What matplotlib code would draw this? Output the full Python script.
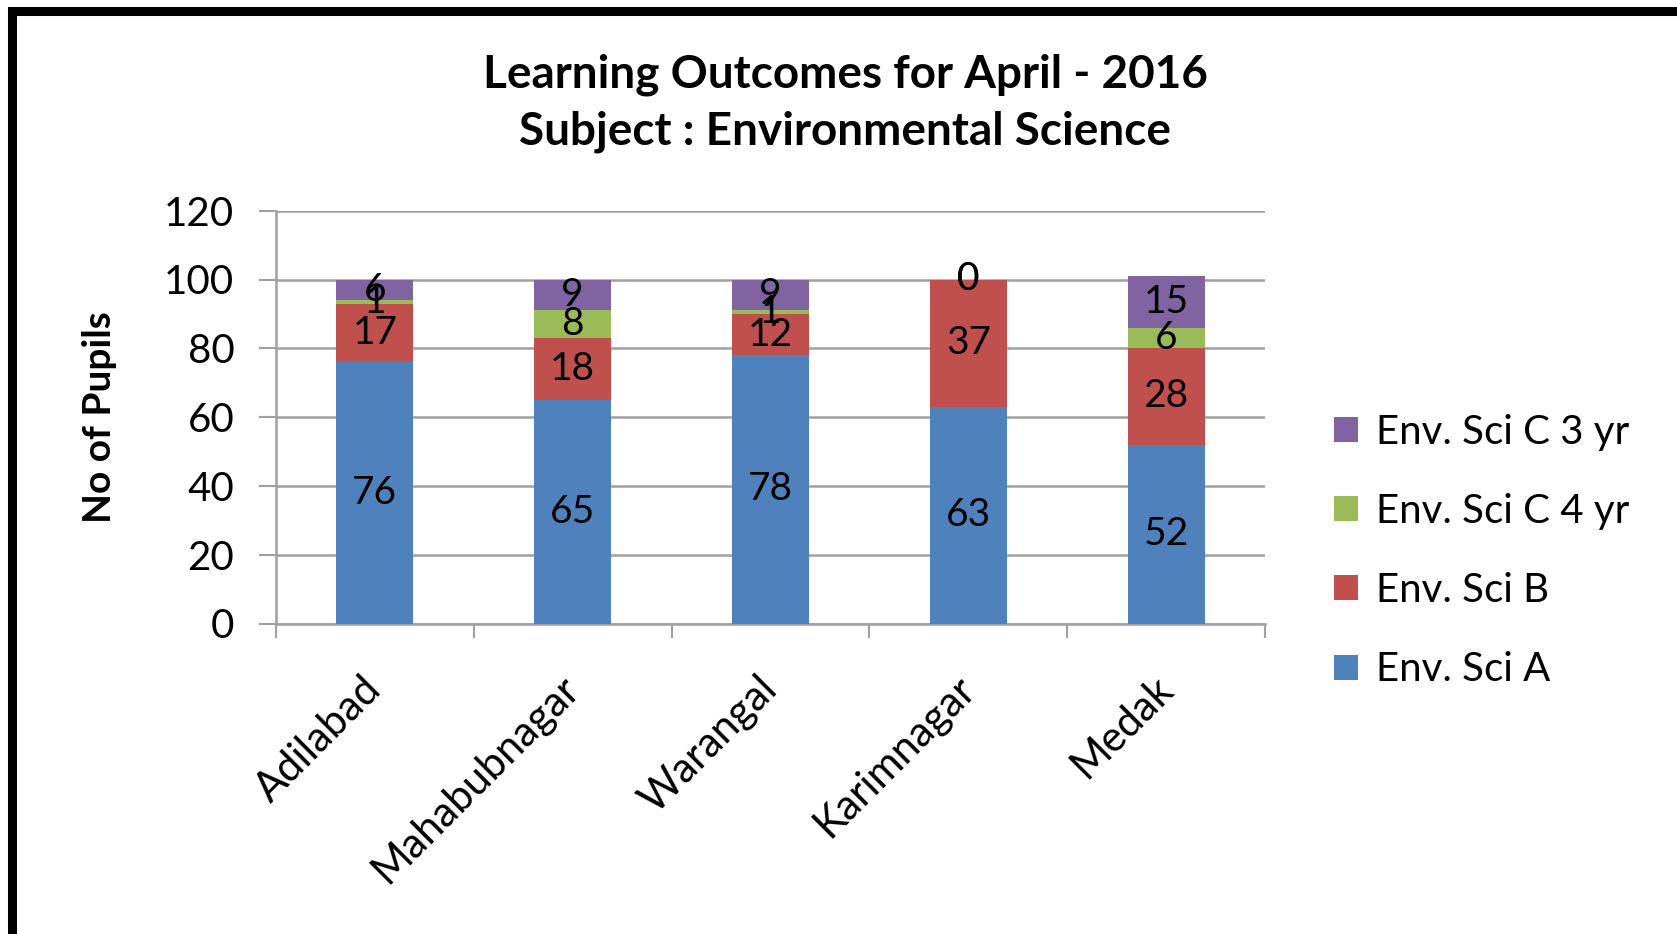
import matplotlib
matplotlib.use("Agg")
import matplotlib.pyplot as plt
from matplotlib.patches import Patch, Rectangle
from matplotlib.transforms import ScaledTranslation
import numpy as np

# ---- data ----
districts = ["Adilabad", "Mahabubnagar", "Warangal", "Karimnagar", "Medak"]
sci_a = [76, 65, 78, 63, 52]
sci_b = [17, 18, 12, 37, 28]
sci_c4 = [1, 8, 1, 0, 6]
sci_c3 = [6, 9, 9, 0, 15]
series_names = ["Env. Sci A", "Env. Sci B", "Env. Sci C 4 yr", "Env. Sci C 3 yr"]
series_colors = ["#4F81BD", "#C0504D", "#9BBB59", "#8064A2"]
y_ticks = [0, 20, 40, 60, 80, 100, 120]

plt.rcParams["font.family"] = ["Lato", "DejaVu Sans"]
W, H = 1677, 934
fig = plt.figure(figsize=(W / 100, H / 100), dpi=100)
ax = fig.add_axes([276 / W, 1 - 623.5 / H, 989 / W, 412.8 / H])

x = np.arange(len(districts))
width = 0.39
bottom = np.zeros(len(districts))
for vals, name, col in zip([sci_a, sci_b, sci_c4, sci_c3], series_names, series_colors):
    vals = np.array(vals, dtype=float)
    ax.bar(x, vals, width, bottom=bottom, color=col, label=name, zorder=3)
    for xi, b, v in zip(x, bottom, vals):
        ax.text(xi, b + v / 2, f"{int(v)}", ha="center", va="center",
                fontsize=28, color="black", zorder=4)
    bottom += vals

ax.set_ylim(0, 120)
ax.set_xlim(-0.5, len(districts) - 0.5)
ax.set_yticks(y_ticks)
ax.tick_params(axis="y", length=12, width=1.5, color="#A0A0A0", pad=18, labelsize=29)
ax.yaxis.grid(True, color="#A0A0A0", linewidth=1.8, zorder=0)

ax.set_xticks(np.arange(-0.5, len(districts)), minor=False)
ax.set_xticklabels([])
ax.set_xticks(x, minor=True)
ax.set_xticklabels(districts, minor=True, rotation=45, ha="right",
                   rotation_mode="anchor", fontsize=30)
ax.tick_params(axis="x", which="major", length=10, width=1.5, color="#A0A0A0", direction="out")
ax.tick_params(axis="x", which="minor", length=0, pad=33)
shift = ScaledTranslation(-13 / 100, 0, fig.dpi_scale_trans)
for lbl in ax.get_xticklabels(minor=True):
    lbl.set_transform(lbl.get_transform() + shift)

for s in ["top", "right"]:
    ax.spines[s].set_visible(False)
for s in ["left", "bottom"]:
    ax.spines[s].set_color("#A0A0A0")
    ax.spines[s].set_linewidth(1.8)

fig.text(845 / W, 1 - 75 / H, "Learning Outcomes for April - 2016", ha="center",
         va="center", fontsize=33, fontweight="bold")
fig.text(845 / W, 1 - 132 / H, "Subject : Environmental Science", ha="center",
         va="center", fontsize=33, fontweight="bold")
fig.text(99.5 / W, 1 - 417 / H, "No of Pupils", rotation=90, ha="center",
         va="center", fontsize=28, fontweight="bold")

handles = [Patch(facecolor=c) for c in series_colors][::-1]
labels = series_names[::-1]
fig.legend(handles, labels, loc="center left", bbox_to_anchor=(1298 / W, 1 - 551 / H),
           frameon=False, fontsize=29, handlelength=0.58, handleheight=0.58,
           handletextpad=0.45, labelspacing=1.05)

fig.patches.append(Rectangle((11.5 / W, -0.05), 1.2, 1 - 10.5 / H + 0.05,
                             transform=fig.transFigure, fill=False,
                             edgecolor="black", linewidth=6.5))

fig.savefig("out.png", dpi=100)
